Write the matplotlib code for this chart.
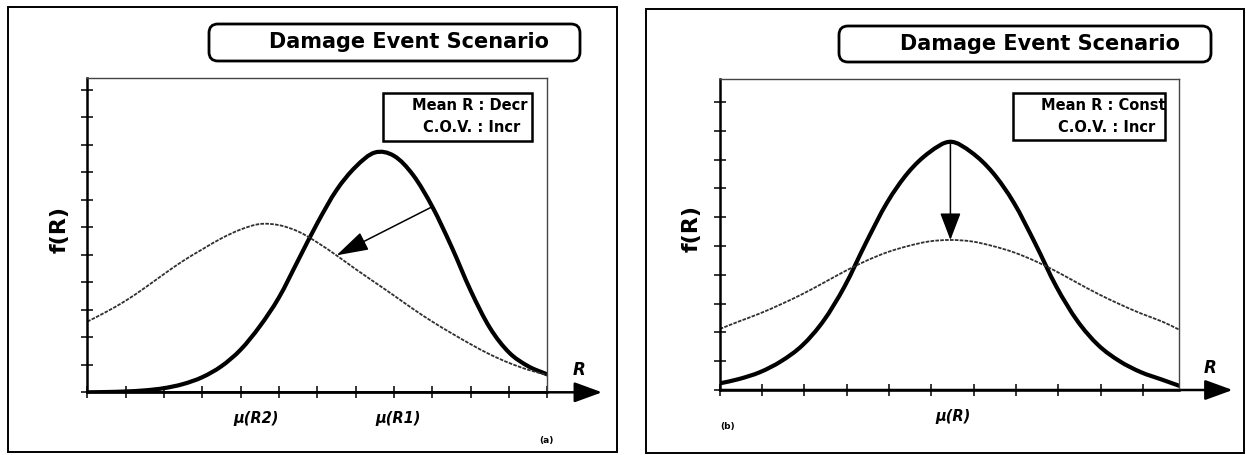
import matplotlib
matplotlib.use("Agg")
import matplotlib.pyplot as plt
from matplotlib.patches import FancyBboxPatch, Rectangle, ArrowStyle, PathPatch
from matplotlib.path import Path
from matplotlib.transforms import IdentityTransform, blended_transform_factory
import numpy as np

# Panel (a): mean decreases, scatter increases
r_a = [0, 0.5, 1, 1.5, 2, 2.5, 3, 3.5, 4, 4.5, 5, 5.5, 6, 6.5, 7, 7.5, 8,
       8.5, 9, 9.5, 10, 10.5, 11, 11.5, 12]
f_r1_a = [0.0, 0.01, 0.03, 0.07, 0.15, 0.3, 0.55, 0.95, 1.55, 2.4, 3.45, 4.8,
          6.15, 7.35, 8.2, 8.72, 8.6, 7.9, 6.75, 5.3, 3.7, 2.35, 1.45, 0.95,
          0.65]
f_r2_a = [2.57, 2.93, 3.33, 3.8, 4.3, 4.78, 5.2, 5.6, 5.92, 6.12, 6.08, 5.85,
          5.45, 4.98, 4.48, 4.0, 3.52, 3.03, 2.57, 2.15, 1.75, 1.38, 1.07, 0.82,
          0.63]
mu_labels_a = ["μ(R2)", "μ(R1)"]
mu_pos_a = [4.4, 8.1]
arrow_x_a = (9.0, 6.5)

# Panel (b): mean constant, scatter increases
r_b = [0, 0.45, 0.95, 1.45, 1.95, 2.45, 2.95, 3.45, 3.95, 4.45, 4.95, 5.45,
       5.95, 6.45, 6.95, 7.45, 7.95, 8.45, 8.95, 9.45, 9.95, 10.45, 10.85]
f_r1_b = [0.23, 0.38, 0.62, 1.0, 1.55, 2.4, 3.6, 5.1, 6.5, 7.55, 8.25, 8.62,
          8.25, 7.55, 6.5, 5.1, 3.6, 2.4, 1.55, 1.0, 0.62, 0.36, 0.15]
f_r2_b = [2.12, 2.38, 2.66, 2.98, 3.33, 3.72, 4.12, 4.48, 4.78, 5.0, 5.16,
          5.21, 5.16, 5.0, 4.78, 4.48, 4.12, 3.72, 3.33, 2.98, 2.66, 2.38, 2.1]
mu_labels_b = ["μ(R)"]
mu_pos_b = [5.5]

title_text = "Damage Event Scenario"
legend_a = ["Mean R : Decr", "C.O.V. : Incr"]
legend_b = ["Mean R : Const", "C.O.V. : Incr"]

W, H = 1246, 455
fig = plt.figure(figsize=(W / 100, H / 100), dpi=100)
plt.rcParams["font.family"] = ["DejaVu Sans"]
px = IdentityTransform()


def fy(y):
    # pixel rows are counted from the top
    return H - y


def smooth_curve(ax, x, y, **kw):
    # Catmull-Rom through the points, drawn as cubic Bezier segments
    p = np.column_stack([x, y]).astype(float)
    ext = np.vstack([2 * p[0] - p[1], p, 2 * p[-1] - p[-2]])
    verts = [p[0]]
    codes = [Path.MOVETO]
    for i in range(1, len(ext) - 2):
        c1 = ext[i] + (ext[i + 1] - ext[i - 1]) / 6.0
        c2 = ext[i + 1] - (ext[i + 2] - ext[i]) / 6.0
        verts += [c1, c2, ext[i + 1]]
        codes += [Path.CURVE4] * 3
    patch = PathPatch(Path(verts, codes), fill=False, **kw)
    ax.add_patch(patch)
    return patch


def add_panel(rect, xlim, ylim, r1, f1, r2, f2, mu_pos, mu_labels,
              nyticks, axis_tip):
    ax = fig.add_axes(rect)
    smooth_curve(ax, r1, f1, ec="black", lw=3.0, capstyle="round")
    smooth_curve(ax, r2, f2, ec="#303030", lw=1.3, ls=(0, (2.0, 0.7)))
    ax.set_xlim(*xlim)
    ax.set_ylim(*ylim)
    ax.set_xticks(np.arange(0, int(xlim[1]) + 1))
    ax.set_yticks(np.arange(0, nyticks + 1))
    ax.set_xticklabels([])
    ax.set_yticklabels([])
    ax.tick_params(direction="inout", length=8, width=1.1, colors="black")
    for side in ("top", "right"):
        ax.spines[side].set_linewidth(1.0)
        ax.spines[side].set_color("#444444")
    ax.spines["left"].set_linewidth(1.8)
    ax.spines["bottom"].set_linewidth(1.8)
    # R axis continues past the box and ends in a filled head
    ax.annotate("", xy=(axis_tip, 0), xytext=(0, 0),
                xycoords="axes fraction", textcoords="axes fraction",
                arrowprops=dict(arrowstyle=ArrowStyle("-|>", head_length=1.7,
                                                      head_width=0.62),
                                mutation_scale=10, lw=1.8, color="black",
                                shrinkA=0, shrinkB=0),
                annotation_clip=False, zorder=1)
    trans = blended_transform_factory(ax.transData, ax.transAxes)
    for xpos, lab in zip(mu_pos, mu_labels):
        ax.text(xpos, -0.085, lab, transform=trans, ha="center", va="center",
                fontsize=10.5, fontweight="bold", style="italic")
    ax.text(axis_tip - 0.05, 0.07, "R", transform=ax.transAxes, ha="center",
            va="center", fontsize=12, fontweight="bold", style="italic")
    return ax


ax_a = add_panel([87.3 / W, 62.7 / H, 460 / W, 314 / H], (0, 12), (0, 11.42),
                 r_a, f_r1_a, r_a, f_r2_a, mu_pos_a, mu_labels_a, 11, 1.119)
ax_b = add_panel([719.8 / W, 65 / H, 459.1 / W, 311 / H], (0, 10.85), (0, 10.8),
                 r_b, f_r1_b, r_b, f_r2_b, mu_pos_b, mu_labels_b, 10, 1.117)

# shift arrows from the original density onto the new one
x0, x1 = arrow_x_a
ax_a.annotate("", xy=(x1, np.interp(x1, r_a, f_r2_a)),
              xytext=(x0, np.interp(x0, r_a, f_r1_a)),
              arrowprops=dict(arrowstyle=ArrowStyle("-|>", head_length=2.0,
                                                    head_width=0.6),
                              mutation_scale=10, lw=1.1, color="black",
                              shrinkA=0, shrinkB=0))
i_peak = int(np.argmax(f_r1_b))
ax_b.annotate("", xy=(r_b[i_peak], f_r2_b[i_peak]),
              xytext=(r_b[i_peak], f_r1_b[i_peak]),
              arrowprops=dict(arrowstyle=ArrowStyle("-|>", head_length=1.7,
                                                    head_width=0.65),
                              mutation_scale=10, lw=1.1, color="black",
                              shrinkA=0, shrinkB=0))

for ax in (ax_a, ax_b):
    pos = ax.get_position()
    fig.text(pos.x0 - 28 / W, pos.y0 + pos.height * 0.52, "f(R)", rotation=90,
             ha="center", va="center", fontsize=16, fontweight="bold")

# outer frames
for x0f, y0f, x1f, y1f in [(8, 7, 617, 452), (646, 9, 1244, 453)]:
    fig.add_artist(Rectangle((x0f, fy(y1f)), x1f - x0f, y1f - y0f,
                             transform=px, fill=False, lw=1.4, ec="black"))

# rounded title boxes
for (bx0, by0, bx1, by1), tx in [((209, 24, 580, 61), 409),
                                  ((839, 26, 1211, 62), 1040)]:
    fig.add_artist(FancyBboxPatch((bx0, fy(by1)), bx1 - bx0, by1 - by0,
                                  boxstyle="round,pad=0,rounding_size=9",
                                  transform=px, fill=False, lw=2.0,
                                  ec="black"))
    fig.text(tx / W, fy((by0 + by1) / 2) / H, title_text, ha="center",
             va="center", fontsize=15, fontweight="bold")

# legend boxes with right-aligned text
for (bx0, by0, bx1, by1), lines, rights in [
        ((383, 93, 532, 141), legend_a, (527, 520)),
        ((1013, 93, 1165, 140), legend_b, (1166, 1155))]:
    fig.add_artist(Rectangle((bx0, fy(by1)), bx1 - bx0, by1 - by0,
                             transform=px, fill=False, lw=1.8, ec="black"))
    for k, (line, rx) in enumerate(zip(lines, rights)):
        fig.text(rx / W, fy(by0 + 12 + 23 * k) / H, line, ha="right",
                 va="center", fontsize=10.5, fontweight="bold")

fig.text(546 / W, fy(440) / H, "(a)", ha="center", va="center", fontsize=6.5,
         fontweight="bold")
fig.text(728 / W, fy(427) / H, "(b)", ha="center", va="center", fontsize=6.5,
         fontweight="bold")

fig.savefig("out.png", dpi=100)
